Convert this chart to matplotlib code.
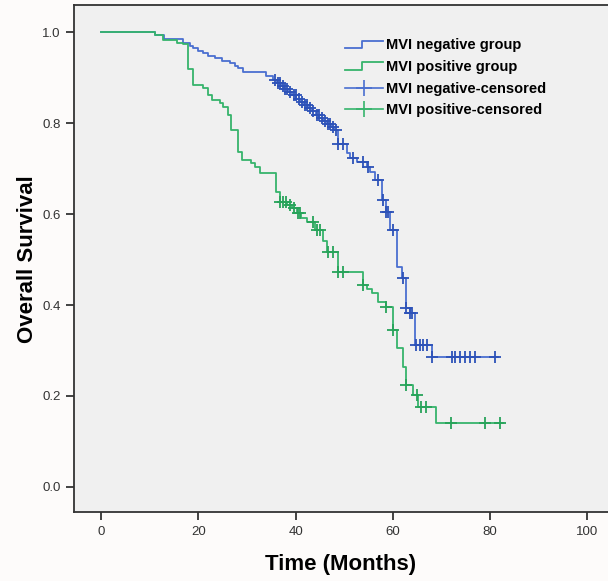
import numpy as np
import matplotlib
matplotlib.use('Agg')
import matplotlib.pyplot as plt
from matplotlib.lines import Line2D
from matplotlib.legend_handler import HandlerBase

plt.rcParams['font.family'] = ['Liberation Sans', 'DejaVu Sans']

# Kaplan-Meier steps: (time of drop, survival after drop)
neg_times = [0, 11.0, 13.0, 16.9, 18.3, 18.9, 20.0, 21.0, 22.0, 23.4, 24.8, 26.5, 27.5,
             28.2, 29.2, 34.0, 35.3, 36.1, 36.9, 37.7, 38.5, 39.3, 40.1, 40.9, 41.7,
             42.5, 43.3, 44.1, 44.9, 45.7, 46.5, 47.3, 47.9, 48.8, 50.5, 51.2, 52.6,
             54.6, 55.3, 56.3, 57.7, 58.7, 59.4, 60.8, 61.8, 62.8, 63.5, 64.5, 68.0]
neg_surv = [1.0, 0.994, 0.985, 0.976, 0.970, 0.965, 0.959, 0.954, 0.948, 0.943, 0.937,
            0.932, 0.926, 0.921, 0.913, 0.903, 0.896, 0.889, 0.882, 0.875, 0.868, 0.861,
            0.854, 0.847, 0.840, 0.833, 0.826, 0.819, 0.812, 0.805, 0.799, 0.792, 0.786,
            0.755, 0.734, 0.723, 0.715, 0.704, 0.693, 0.675, 0.631, 0.605, 0.565, 0.484,
            0.459, 0.394, 0.382, 0.313, 0.286]
neg_end = 81.7
neg_censored = [35.7, 36.4, 36.8, 37.3, 37.9, 38.3, 38.9, 39.6, 40.0, 40.6, 41.3, 41.9,
                42.4, 43.0, 43.6, 44.3, 44.8, 45.4, 46.0, 46.6, 47.1, 47.7, 48.4, 48.8,
                49.8, 51.9, 53.9, 54.8, 57.0, 58.0, 58.7, 59.1, 60.0, 62.0, 62.8, 63.5,
                63.9, 64.8, 65.6, 66.3, 67.0, 68.0, 72.1, 72.9, 73.8, 74.8, 75.9, 76.9, 81.0]

pos_times = [0, 11.0, 12.7, 15.5, 16.9, 17.9, 18.8, 21.0, 22.0, 22.7, 24.4, 25.0, 26.1,
             26.8, 28.2, 28.9, 30.9, 31.6, 32.7, 36.0, 36.8, 38.3, 39.2, 40.2, 41.2,
             42.3, 44.0, 45.7, 46.4, 48.8, 53.9, 54.7, 55.8, 57.0, 58.7, 60.0, 60.8,
             62.0, 62.8, 64.1, 65.2, 68.9]
pos_surv = [1.0, 0.995, 0.983, 0.977, 0.974, 0.920, 0.883, 0.877, 0.862, 0.851, 0.844,
            0.836, 0.818, 0.785, 0.737, 0.719, 0.712, 0.704, 0.690, 0.648, 0.627, 0.620,
            0.613, 0.602, 0.591, 0.583, 0.565, 0.541, 0.517, 0.473, 0.444, 0.435, 0.426,
            0.407, 0.396, 0.345, 0.305, 0.264, 0.224, 0.202, 0.176, 0.140]
pos_end = 82.7
pos_censored = [36.8, 37.4, 38.0, 38.8, 39.6, 40.5, 41.0, 43.6, 44.3, 45.1, 46.7, 47.7,
                48.8, 49.7, 53.9, 58.7, 60.0, 62.8, 64.9, 65.9, 66.8, 72.0, 79.0, 82.0]

neg_color = '#4a6fd0'
neg_mark = '#2d52b8'
pos_color = '#36b46c'
pos_mark = '#27a35a'


def surv_at(times, surv, t):
    i = np.searchsorted(times, t, side='right') - 1
    return np.asarray(surv)[i]


class HandlerStep(HandlerBase):
    def create_artists(self, legend, orig_handle, xdescent, ydescent, width, height,
                       fontsize, trans):
        xs = np.array([0, 0.45, 0.45, 1.0]) * width - xdescent
        ys = np.array([0.1, 0.1, 0.85, 0.85]) * height - ydescent
        ln = Line2D(xs, ys, color=orig_handle.get_color(), lw=1.3)
        ln.set_transform(trans)
        return [ln]


fig = plt.figure(figsize=(6.08, 5.81), dpi=100, facecolor='#fdfbfa')
ax = fig.add_axes([0.1217, 0.1182, 0.8783, 0.8732])
ax.set_facecolor('#f0f0f0')

for times, surv, end, cens, col, mcol in [
        (neg_times, neg_surv, neg_end, neg_censored, neg_color, neg_mark),
        (pos_times, pos_surv, pos_end, pos_censored, pos_color, pos_mark)]:
    ax.step(list(times) + [end], list(surv) + [surv[-1]], where='post', color=col, lw=1.3)
    cy = [surv_at(times, surv, t) for t in cens]
    ax.plot(cens, cy, ls='none', marker='+', ms=8, mew=1.3, color=mcol)

ax.set_xlim(-5.62, 104.3)
ax.set_ylim(-0.056, 1.060)
ax.set_xticks([0, 20, 40, 60, 80, 100])
ax.set_yticks([0.0, 0.2, 0.4, 0.6, 0.8, 1.0])
ax.set_yticklabels(['0.0', '0.2', '0.4', '0.6', '0.8', '1.0'])
ax.tick_params(direction='out', length=6, width=1.3, colors='#333333', labelsize=9.5,
               labelcolor='#333333')
for s in ['left', 'bottom', 'top']:
    ax.spines[s].set_color('#333333')
    ax.spines[s].set_linewidth(1.3)
ax.spines['right'].set_visible(False)

ax.set_xlabel('Time (Months)', fontsize=16, fontweight='bold', labelpad=12)
ax.set_ylabel('Overall Survival', fontsize=16, fontweight='bold', labelpad=3)

handles = [Line2D([], [], color=neg_color), Line2D([], [], color=pos_color),
           Line2D([], [], color=neg_color, marker='+', ms=12, mew=1.2, lw=1.2),
           Line2D([], [], color=pos_color, marker='+', ms=12, mew=1.2, lw=1.2)]
labels = ['MVI negative group', 'MVI positive group', 'MVI negative-censored',
          'MVI positive-censored']
leg = ax.legend(handles, labels, loc='upper left', bbox_to_anchor=(0.507, 0.934),
                frameon=False, handlelength=2.6, handletextpad=0.25, labelspacing=0.52,
                borderpad=0, borderaxespad=0,
                prop={'weight': 'bold', 'size': 10.5},
                handler_map={handles[0]: HandlerStep(), handles[1]: HandlerStep()})

plt.savefig('out.png', dpi=100, facecolor=fig.get_facecolor())
